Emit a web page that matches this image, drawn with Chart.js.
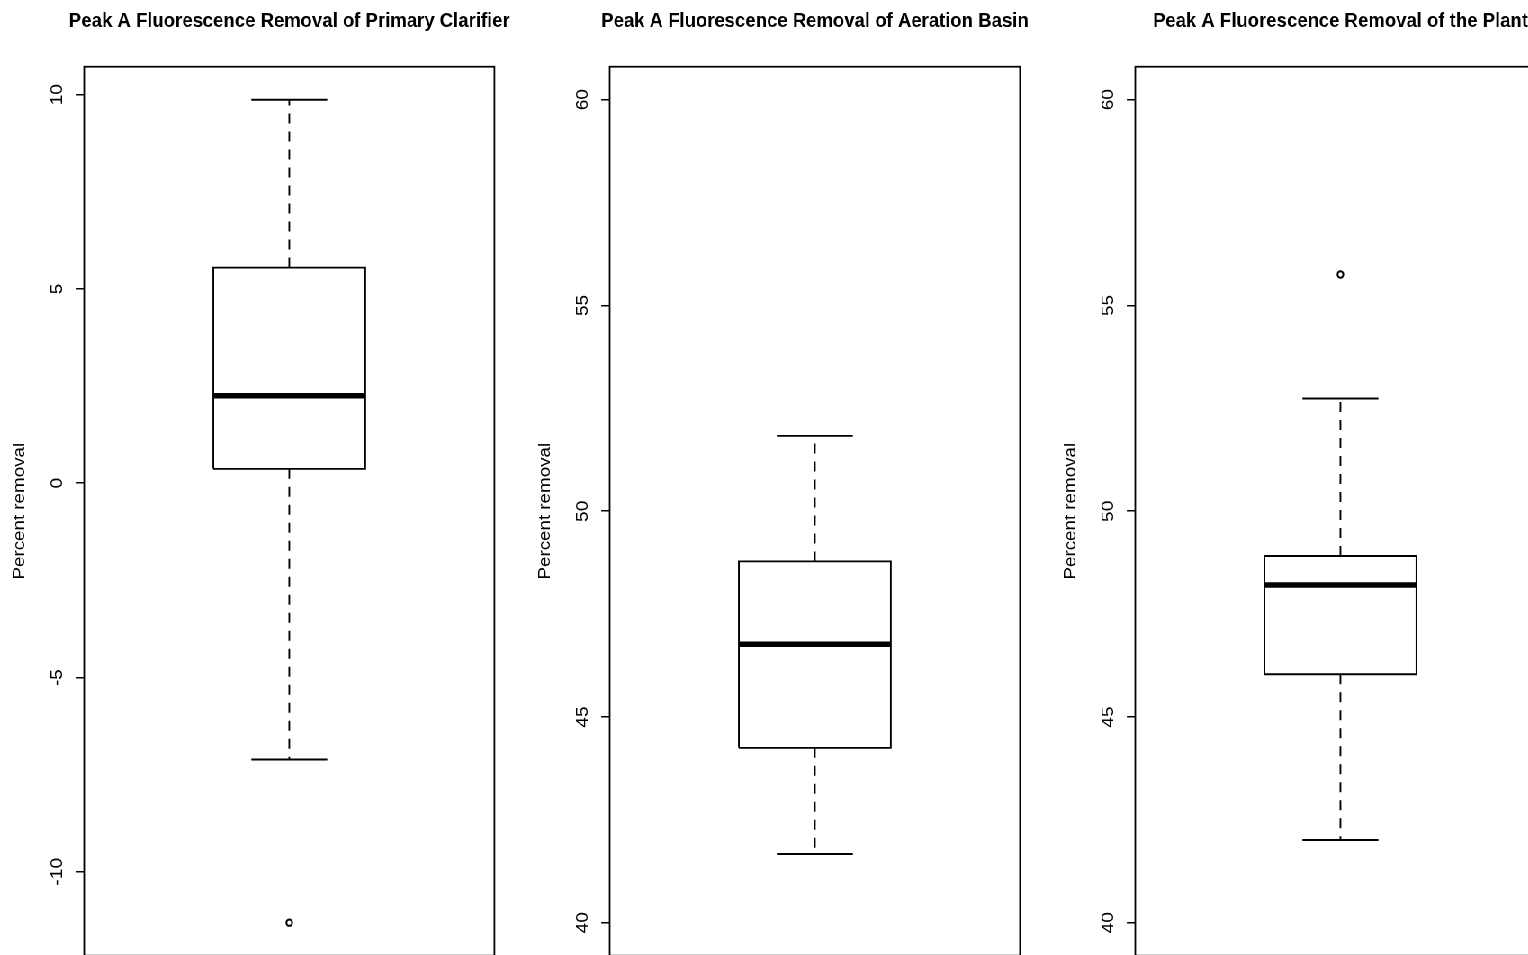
<!DOCTYPE html>
<html>
<head>
<meta charset="utf-8">
<script src="https://cdn.jsdelivr.net/npm/chart.js@4.4.1/dist/chart.umd.min.js"></script>
<style>
  html, body { margin: 0; padding: 0; background: #ffffff; overflow: hidden; width: 1528px; height: 955px; }
  #wrap { position: absolute; left: 0; top: 0; width: 1811px; height: 1000px; transform: scaleX(0.9); transform-origin: 0 0; }
  #wrap canvas { position: absolute; top: 0; }
</style>
</head>
<body>
<div id="wrap">
  <canvas id="c0" width="643" height="1000" style="left:0px;width:643px;height:1000px"></canvas>
  <canvas id="c1" width="643" height="1000" style="left:584px;width:643px;height:1000px"></canvas>
  <canvas id="c2" width="643" height="1000" style="left:1168px;width:643px;height:1000px"></canvas>
</div>
<script>
// ---- data ----
const panelTitles = [
  "Peak A Fluorescence Removal of Primary Clarifier",
  "Peak A Fluorescence Removal of Aeration Basin",
  "Peak A Fluorescence Removal of the Plant"
];
const axisTitle = "Percent removal";
const whiskerLow  = [-7.11, 41.67, 42.01];
const quartile1   = [0.37, 44.25, 46.04];
const medians     = [2.25, 46.77, 48.21];
const quartile3   = [5.55, 48.78, 48.91];
const whiskerHigh = [9.87, 51.83, 52.74];
const outliers    = [[-11.31], [], [55.75]];
const yMin = [-12.16, 39.2, 39.2];
const yMax = [10.72, 60.8, 60.8];
const yTicks = [[-10, -5, 0, 5, 10], [40, 45, 50, 55, 60], [40, 45, 50, 55, 60]];

// ---- styling constants ----
const FONT = "'Liberation Sans', Arial, Helvetica, sans-serif";
const BOX_HALF = 0.2, CAP_HALF = 0.1, XC = 1;
const tickPad = [6.5, 9.6, 9.6];

Chart.defaults.font.family = FONT;
Chart.defaults.color = '#000';

const framePlugin = {
  id: 'frame',
  afterDraw(chart) {
    const a = chart.chartArea, ctx = chart.ctx;
    ctx.save();
    ctx.strokeStyle = '#000';
    ctx.lineWidth = 1.8;
    ctx.strokeRect(a.left, a.top, a.right - a.left, a.bottom - a.top);
    ctx.restore();
  }
};

function lineDs(points, width, dash) {
  return {
    data: points.map(p => ({x: p[0], y: p[1]})),
    showLine: true,
    borderColor: '#000',
    backgroundColor: '#000',
    borderWidth: width,
    borderDash: dash || [],
    borderCapStyle: 'butt',
    borderJoinStyle: 'miter',
    pointRadius: 0,
    pointHoverRadius: 0,
    tension: 0,
    fill: false
  };
}

for (let i = 0; i < 3; i++) {
  const lo = whiskerLow[i], q1 = quartile1[i], md = medians[i], q3 = quartile3[i], hi = whiskerHigh[i];
  const datasets = [
    lineDs([[XC - BOX_HALF, md], [XC + BOX_HALF, md]], 5.5),
    lineDs([[XC - BOX_HALF, q1], [XC + BOX_HALF, q1], [XC + BOX_HALF, q3], [XC - BOX_HALF, q3], [XC - BOX_HALF, q1]], 1.9),
    lineDs([[XC, q3], [XC, hi]], 1.9, [10, 8]),
    lineDs([[XC, q1], [XC, lo]], 1.9, [10, 8]),
    lineDs([[XC - CAP_HALF, hi], [XC + CAP_HALF, hi]], 1.9),
    lineDs([[XC - CAP_HALF, lo], [XC + CAP_HALF, lo]], 1.9),
    {
      data: outliers[i].map(v => ({x: XC, y: v})),
      showLine: false,
      pointRadius: 3.2,
      pointBorderWidth: 2,
      pointBorderColor: '#000',
      pointBackgroundColor: '#fff'
    }
  ];
  new Chart(document.getElementById('c' + i), {
    type: 'scatter',
    data: { datasets },
    options: {
      responsive: false,
      animation: false,
      devicePixelRatio: 1,
      events: [],
      layout: { padding: { left: 0, top: 0, right: 0, bottom: 44.3 } },
      plugins: {
        legend: { display: false },
        tooltip: { enabled: false },
        title: {
          display: true,
          text: panelTitles[i],
          fullSize: true,
          color: '#000',
          font: { family: FONT, size: 20.6, weight: 'bold', lineHeight: 1.2 },
          padding: { top: 9.4, bottom: 32.6 }
        }
      },
      scales: {
        x: { type: 'linear', min: 0.46, max: 1.54, display: false },
        y: {
          type: 'linear',
          position: 'left',
          min: yMin[i],
          max: yMax[i],
          afterBuildTicks(scale) { scale.ticks = yTicks[i].map(v => ({ value: v })); },
          afterFit(scale) { scale.width = 93.5; },
          grid: { display: true, drawOnChartArea: false, drawTicks: true, tickLength: 9.4, color: '#000', lineWidth: 1.5 },
          border: { display: false },
          ticks: {
            color: '#000',
            font: { family: FONT, size: 19.2 },
            minRotation: 90,
            maxRotation: 90,
            crossAlign: 'center',
            padding: tickPad[i],
            includeBounds: false
          },
          title: {
            display: true,
            text: axisTitle,
            color: '#000',
            font: { family: FONT, size: 18.8, lineHeight: 1.2 },
            padding: { top: 10.3, bottom: 0 }
          }
        },
        yRight: {
          type: 'linear',
          position: 'right',
          min: yMin[i],
          max: yMax[i],
          afterFit(scale) { scale.width = 93.6; },
          grid: { display: false },
          border: { display: false },
          ticks: { display: false },
          title: { display: false }
        }
      }
    },
    plugins: [framePlugin]
  });
}
</script>
</body>
</html>
